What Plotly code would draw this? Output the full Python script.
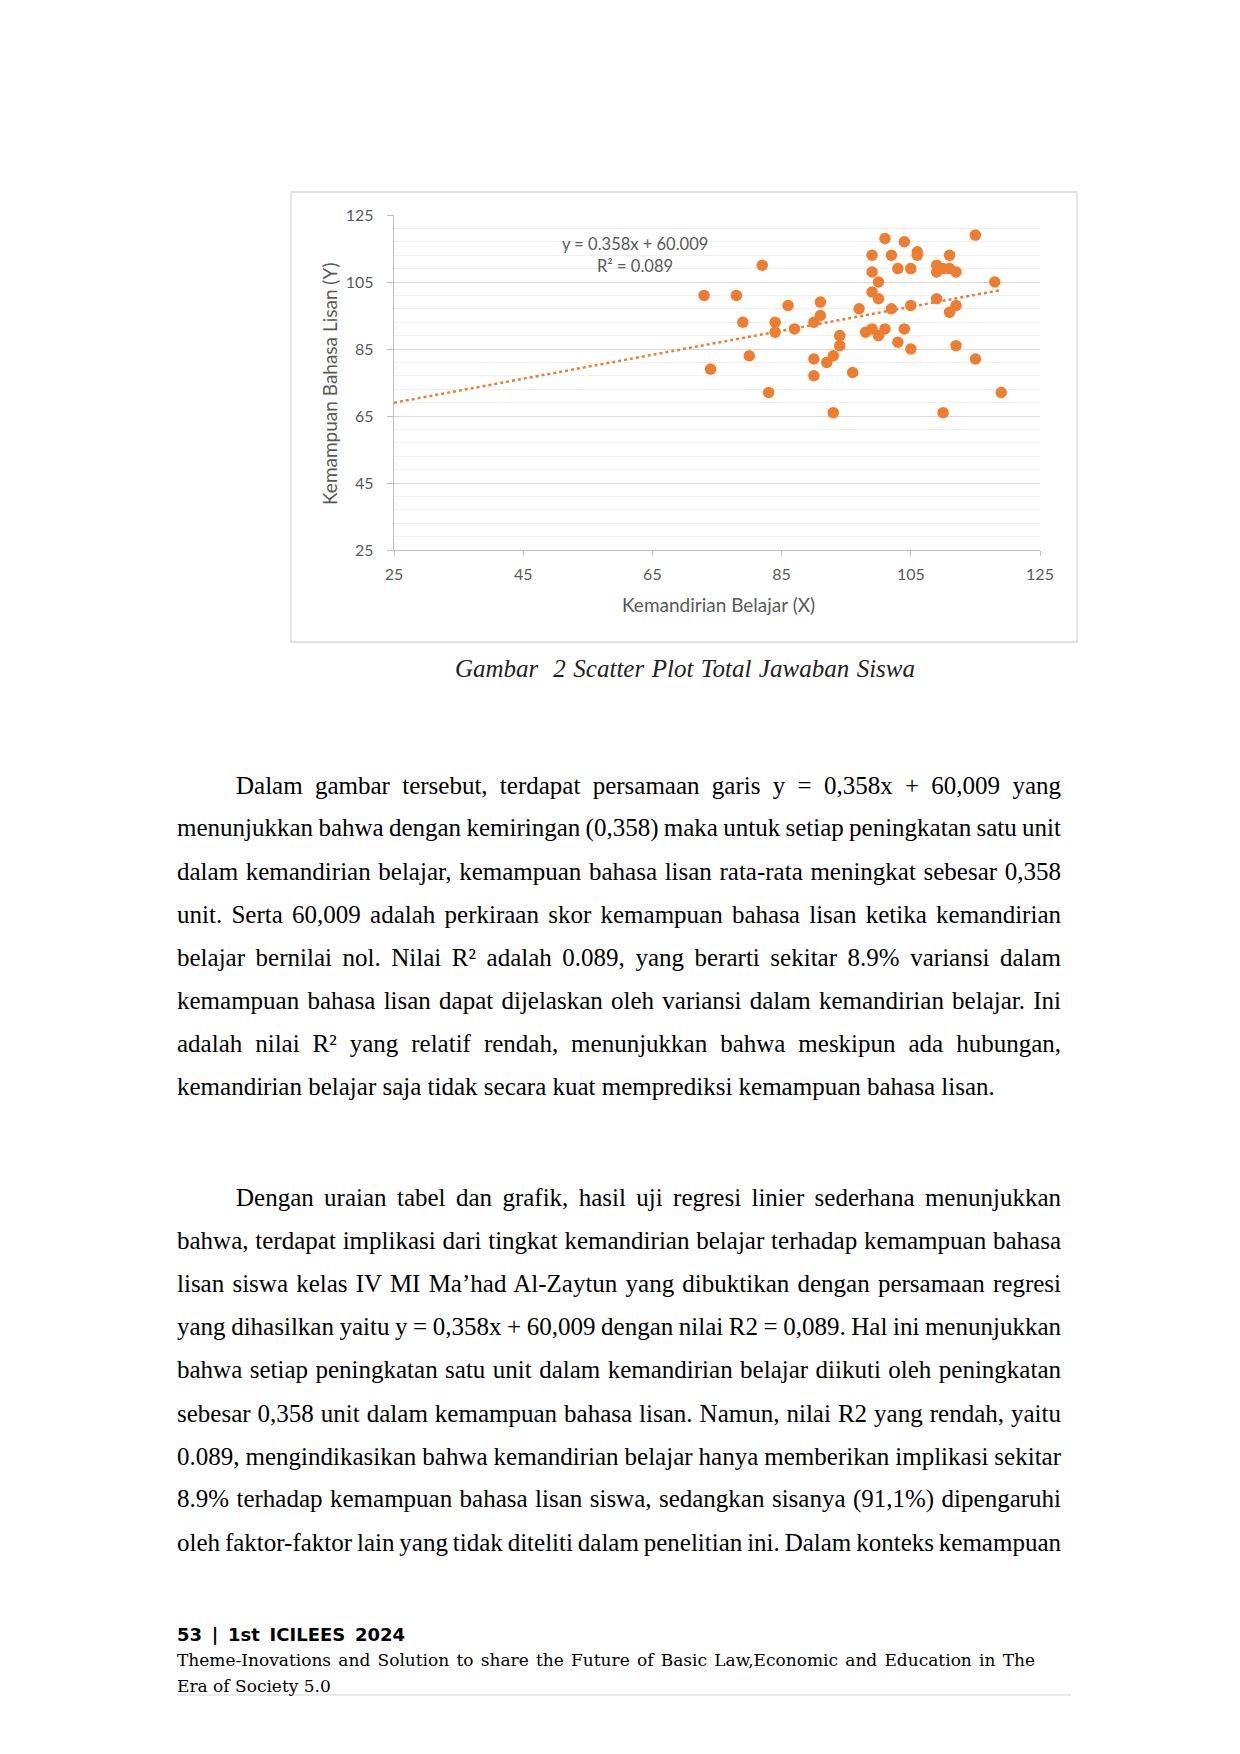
import json
import plotly.graph_objects as go

# titik-titik scatter
kemandirian = [82, 73, 78, 79, 74, 80, 83, 84, 84, 86, 87, 91, 91, 90, 90, 90, 92, 93, 94, 94, 93, 96, 97, 98,
               99, 99, 100, 99, 100, 101, 102, 104, 103, 105, 106, 106, 102, 105, 99, 100, 101, 104, 103, 105,
               109, 109, 110, 111, 111, 112, 109, 112, 111, 112, 115, 115, 118, 119, 110]
bahasa_lisan = [110, 101, 101, 93, 79, 83, 72, 93, 90, 98, 91, 99, 95, 93, 82, 77, 81, 83, 89, 86, 66, 78, 97, 90,
                113, 108, 105, 102, 100, 118, 113, 117, 109, 109, 114, 113, 97, 98, 91, 89, 91, 91, 87, 85,
                110, 108, 109, 113, 109, 108, 100, 98, 96, 86, 119, 82, 105, 72, 66]

slope = 0.358
intercept = 60.009
eq_text = "y = 0.358x + 60.009"
r2_text = "R² = 0.089"
axis_ticks = [25, 45, 65, 85, 105, 125]

caption = "Gambar  2 Scatter Plot Total Jawaban Siswa"

para1 = [
    "Dalam gambar tersebut, terdapat persamaan garis y = 0,358x + 60,009 yang",
    "menunjukkan bahwa dengan kemiringan (0,358) maka untuk setiap peningkatan satu unit",
    "dalam kemandirian belajar, kemampuan bahasa lisan rata-rata meningkat sebesar 0,358",
    "unit. Serta 60,009 adalah perkiraan skor kemampuan bahasa lisan ketika kemandirian",
    "belajar bernilai nol. Nilai R² adalah 0.089, yang berarti sekitar 8.9% variansi dalam",
    "kemampuan bahasa lisan dapat dijelaskan oleh variansi dalam kemandirian belajar. Ini",
    "adalah nilai R² yang relatif rendah, menunjukkan bahwa meskipun ada hubungan,",
    "kemandirian belajar saja tidak secara kuat memprediksi kemampuan bahasa lisan.",
]
para2 = [
    "Dengan uraian tabel dan grafik, hasil uji regresi linier sederhana menunjukkan",
    "bahwa, terdapat implikasi dari tingkat kemandirian belajar terhadap kemampuan bahasa",
    "lisan siswa kelas IV MI Ma’had Al-Zaytun yang dibuktikan dengan persamaan regresi",
    "yang dihasilkan yaitu y = 0,358x + 60,009 dengan nilai R2 = 0,089. Hal ini menunjukkan",
    "bahwa setiap peningkatan satu unit dalam kemandirian belajar diikuti oleh peningkatan",
    "sebesar 0,358 unit dalam kemampuan bahasa lisan. Namun, nilai R2 yang rendah, yaitu",
    "0.089, mengindikasikan bahwa kemandirian belajar hanya memberikan implikasi sekitar",
    "8.9% terhadap kemampuan bahasa lisan siswa, sedangkan sisanya (91,1%) dipengaruhi",
    "oleh faktor-faktor lain yang tidak diteliti dalam penelitian ini. Dalam konteks kemampuan",
]
footer1 = "53 | 1st ICILEES 2024"
footer2 = "Theme-Inovations and Solution to share the Future of Basic Law,Economic and Education in The"
footer3 = "Era of Society 5.0"

# ukuran halaman & area plot (px)
W, H = 1240, 1754
L, R, T, B = 394, 1040, 215, 550
ORANGE = "#ED7D31"
GREY_TXT = "#595959"
PAD = 3  # geser kiri, annotation punya padding kecil


def pxx(x):
    return (x - L) / (R - L)


def pxy(y):
    return (B - y) / (B - T)


fig = go.Figure()

# garis tren
x_end = max(kemandirian)
fig.add_trace(go.Scatter(
    x=[axis_ticks[0], x_end],
    y=[slope * axis_ticks[0] + intercept, slope * x_end + intercept],
    mode="lines",
    line=dict(color=ORANGE, width=2.5, dash="dot"),
    hoverinfo="skip",
    showlegend=False,
))

fig.add_trace(go.Scatter(
    x=kemandirian,
    y=bahasa_lisan,
    mode="markers",
    marker=dict(color=ORANGE, size=11.5, line_width=0),
    showlegend=False,
))

annots = []
fits = []  # (index annotation, lebar target px)


def add_text(text, x, y, size, family="Liberation Serif", color="#000", fit=None,
             xanchor="left", style="normal", **kw):
    if xanchor == "left":
        x -= PAD
    annots.append(dict(
        text=text, x=pxx(x), y=pxy(y), xref="paper", yref="paper",
        xanchor=xanchor, yanchor="middle", align="left", showarrow=False,
        font=dict(size=size, family=family, color=color, style=style), **kw
    ))
    if fit:
        fits.append([len(annots) - 1, fit])


# teks di dalam chart
add_text(eq_text, 635, 244, 16.5, family="Lato", color=GREY_TXT, xanchor="center")
add_text(r2_text, 635, 266, 16.5, family="Lato", color=GREY_TXT, xanchor="center")
add_text("Kemandirian Belajar (X)", 718, 604, 19, family="Lato", color=GREY_TXT, xanchor="center")
add_text("Kemampuan Bahasa Lisan (Y)", 329, 384, 19, family="Lato", color=GREY_TXT,
         xanchor="center", textangle=-90)

# keterangan gambar
add_text(caption, 456, 668, 25, color="#222", fit=460, style="italic")

# paragraf
LINE = 43.1
BODY = 25
LEFT, RIGHT, INDENT = 178, 1062, 237
for k, line in enumerate(para1):
    base = 793 + k * LINE
    x0 = INDENT if k == 0 else LEFT
    fit = None if k == len(para1) - 1 else RIGHT - x0
    add_text(line, x0, base - 0.32 * BODY, BODY, fit=fit)
for k, line in enumerate(para2):
    base = 1205.5 + k * LINE
    x0 = INDENT if k == 0 else LEFT
    add_text(line, x0, base - 0.32 * BODY, BODY, fit=RIGHT - x0)

# footer
add_text("<b>" + footer1 + "</b>", 178, 1634, 18, family="DejaVu Sans", fit=228)
add_text(footer2, 178, 1660, 17, family="DejaVu Serif", fit=858)
add_text(footer3, 178, 1686, 17, family="DejaVu Serif")

shapes = [
    dict(type="rect", xref="paper", yref="paper", x0=pxx(291), x1=pxx(1077), y0=pxy(192), y1=pxy(642),
         line=dict(color="#d9d9d9", width=1.5), layer="below"),
    dict(type="line", xref="paper", yref="paper", x0=pxx(177), x1=pxx(1071), y0=pxy(1695), y1=pxy(1695),
         line=dict(color="#e3e3e3", width=1.5)),
]

axis_common = dict(
    range=[25, 125], tickvals=axis_ticks, showline=True, linecolor="#bfbfbf", linewidth=1.3,
    ticks="outside", tickcolor="#bfbfbf", tickwidth=1.3, zeroline=False,
    tickfont=dict(family="Lato", size=16, color=GREY_TXT),
)

fig.update_layout(
    width=W, height=H,
    margin=dict(l=L, r=W - R, t=T, b=H - B),
    paper_bgcolor="white", plot_bgcolor="white",
    xaxis=dict(**axis_common, showgrid=False, ticklen=5, ticklabelstandoff=5),
    yaxis=dict(**axis_common, showgrid=True, gridcolor="#d9d9d9", gridwidth=1.3, ticklen=6,
               ticklabelstandoff=10,
               minor=dict(dtick=4, tick0=25, showgrid=True, gridcolor="#f0f0f0", gridwidth=1)),
    annotations=annots,
    shapes=shapes,
    showlegend=False,
)

post = """
document.body.style.margin = '0';
document.body.style.overflow = 'hidden';
var gd = document.getElementById('{plot_id}');
var fits = FITS;
fits.forEach(function (f) {
  var t = gd.querySelector('g.annotation[data-index="' + f[0] + '"] text.annotation-text');
  if (!t) return;
  var w = t.getComputedTextLength();
  var n = (t.textContent.match(/ /g) || []).length;
  if (n > 0) t.style.wordSpacing = ((f[1] - w) / n) + 'px';
});
""".replace("FITS", json.dumps(fits))

fig.write_html("out.html", post_script=post, config={"displayModeBar": False})
